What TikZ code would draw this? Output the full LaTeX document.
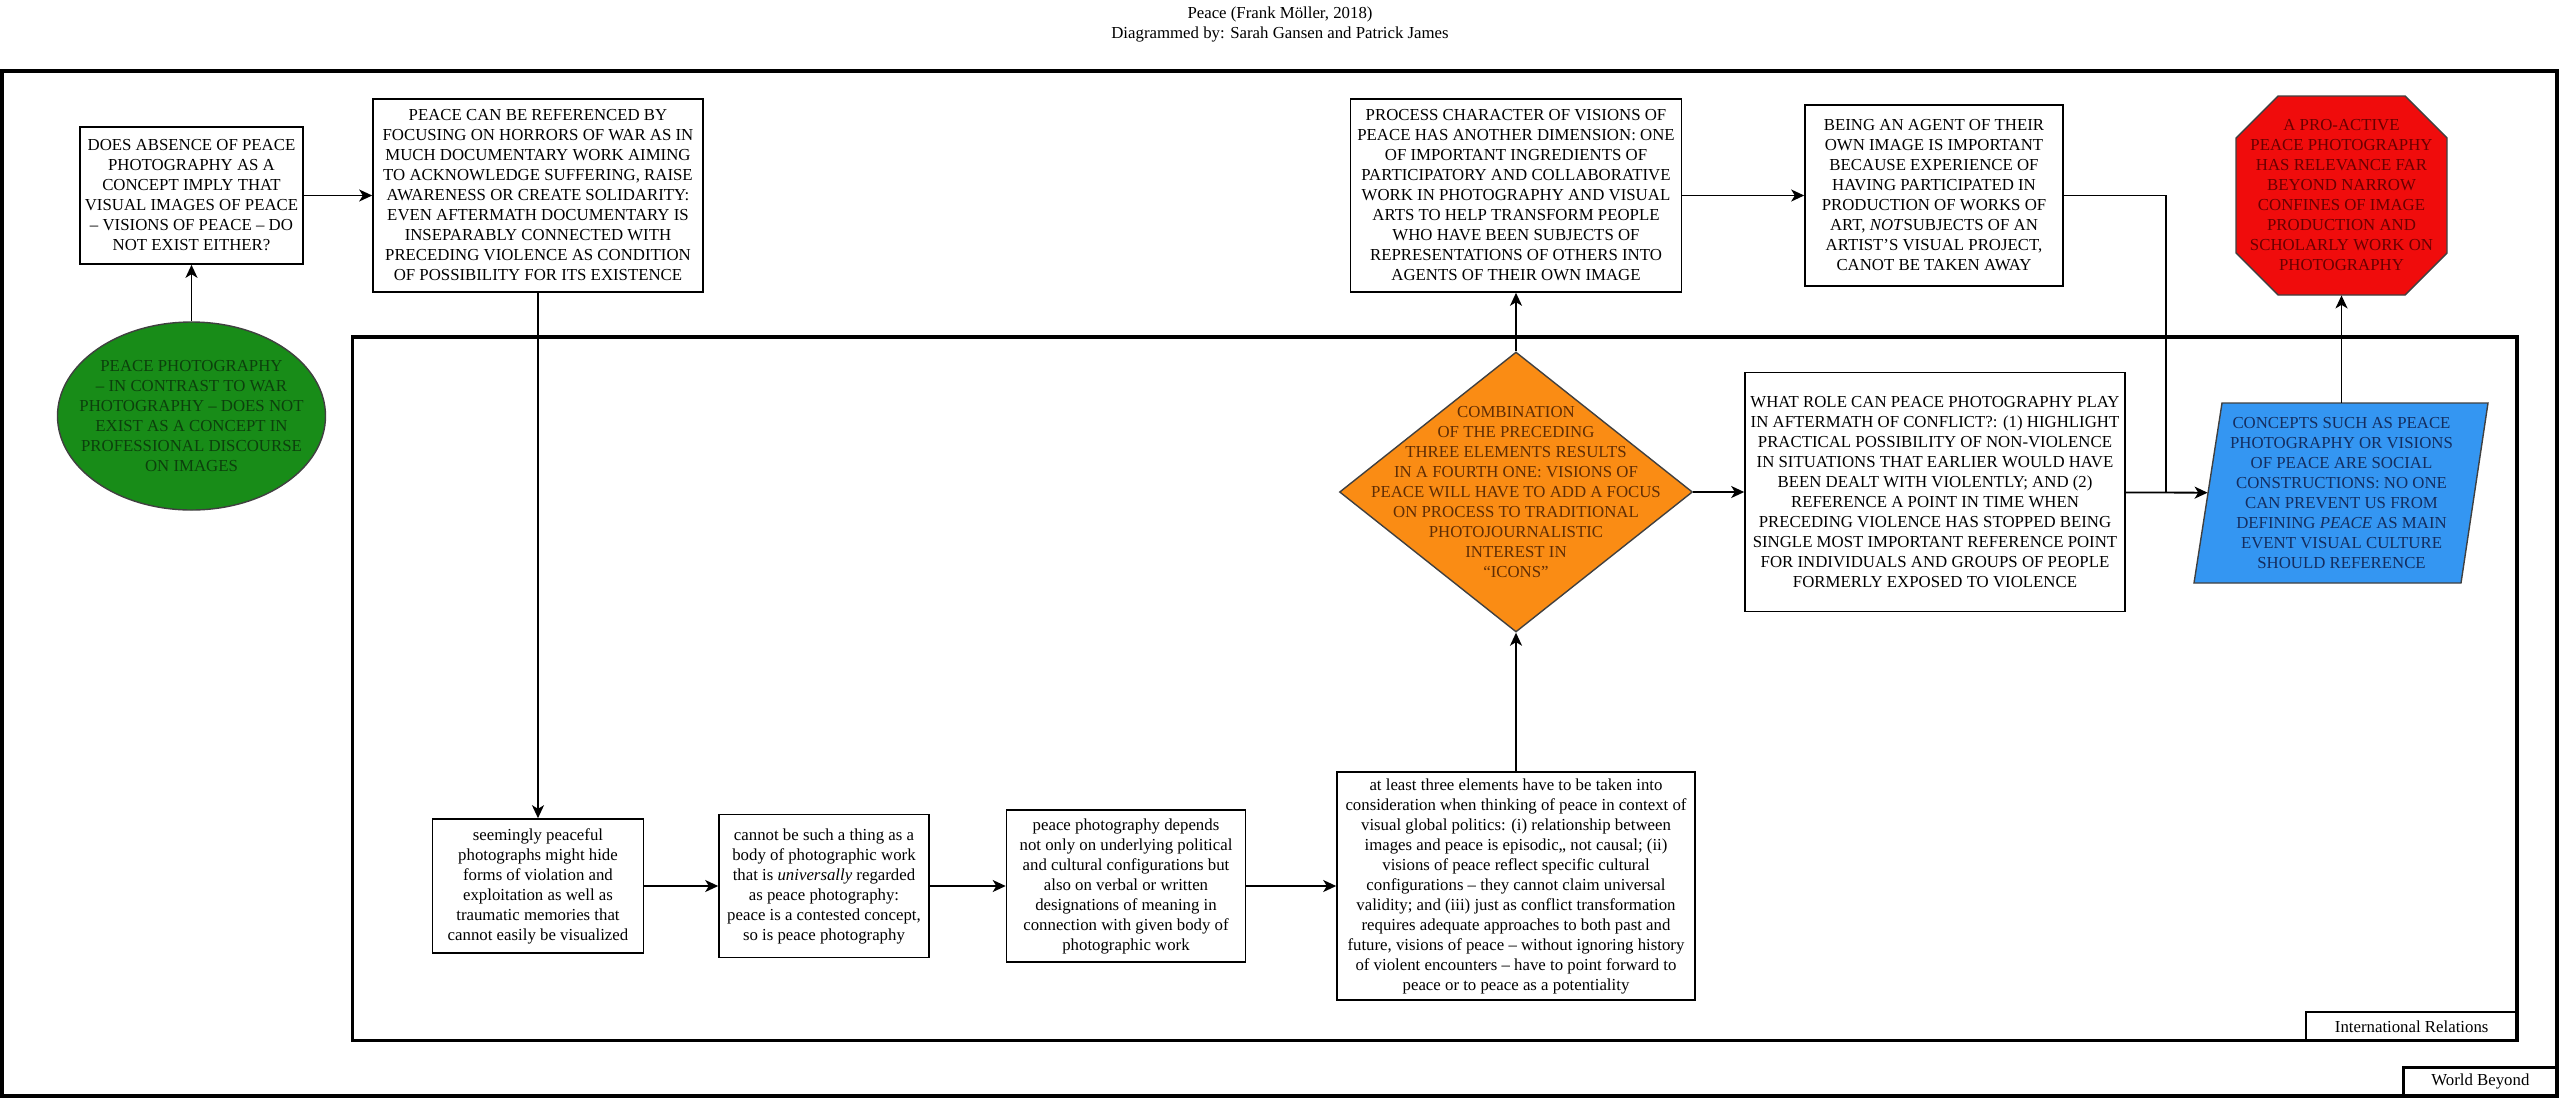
\documentclass[tikz,border=0pt]{standalone}
\usepackage{fontspec}
\setmainfont{Liberation Serif}
\usepackage{tikz}
\usepackage{xcolor}
\usetikzlibrary{
    arrows.meta,
    shapes
}
\definecolor{peacegreen}{RGB}{24,140,24}
\definecolor{peacegreentext}{RGB}{12,64,12}
\definecolor{stopred}{RGB}{240,12,12}
\definecolor{stopredtext}{RGB}{105,0,0}
\definecolor{comboorange}{RGB}{250,140,20}
\definecolor{comboorangetext}{RGB}{95,45,5}
\definecolor{conceptblue}{RGB}{52,150,242}
\definecolor{conceptbluetext}{RGB}{20,45,95}

\begin{document}
\begin{tikzpicture}[x=0.5pt, y=-0.5pt,
    font={\fontsize{8.4}{10}\selectfont},
    box/.style={draw, line width=0.8pt, align=center, inner sep=0pt},
    shapetext/.style={align=center, inner sep=0pt},
    colourshape/.style={draw=black!75, line width=0.7pt},
    frame/.style={draw, line width=1.8pt, inner sep=0pt},
    framelabel/.style={draw, line width=1.4pt, inner sep=0pt, anchor=south east},
    link/.style={line width=0.9pt, -{Stealth[length=6.5pt, width=6pt, inset=1.8pt]}}
]
\useasboundingbox (0, 0) rectangle (2560, 1099);
% title
\node[align=center] (title) at (1280, 24) {Peace (Frank Möller, 2018)\\Diagrammed by: Sarah Gansen and Patrick James};
% frames
\node[frame, minimum width=1277.5pt, minimum height=512.5pt] (world) at (1279.5, 583.5) {};
\node[framelabel, minimum width=77pt, minimum height=14.5pt] (worldlabel) at (world.south east) {World Beyond};
\node[frame, minimum width=1082.25pt, minimum height=351.75pt] (ir) at (1434.75, 688.75) {};
\node[framelabel, minimum width=105.75pt, minimum height=14.5pt] (irlabel) at (ir.south east) {International Relations};
% left part
\node[colourshape, ellipse, fill=peacegreen, inner sep=0pt,
    minimum width=134pt, minimum height=94pt,
    label={[shapetext, text=peacegreentext]center:{PEACE PHOTOGRAPHY\\-- IN CONTRAST TO WAR\\PHOTOGRAPHY -- DOES NOT\\EXIST AS A CONCEPT IN\\PROFESSIONAL DISCOURSE\\ON IMAGES}}] (nophoto) at (191.5, 416) {};
\node[box, minimum width=111.5pt, minimum height=68.5pt] (absence) at (191.5, 195.5) {DOES ABSENCE OF PEACE\\PHOTOGRAPHY AS A\\CONCEPT IMPLY THAT\\VISUAL IMAGES OF PEACE\\-- VISIONS OF PEACE -- DO\\NOT EXIST EITHER?};
\node[box, minimum width=165pt, minimum height=96.5pt] (horrors) at (538, 195.5) {PEACE CAN BE REFERENCED BY\\FOCUSING ON HORRORS OF WAR AS IN\\MUCH DOCUMENTARY WORK AIMING\\TO ACKNOWLEDGE SUFFERING, RAISE\\AWARENESS OR CREATE SOLIDARITY:\\EVEN AFTERMATH DOCUMENTARY IS\\INSEPARABLY CONNECTED WITH\\PRECEDING VIOLENCE AS CONDITION\\OF POSSIBILITY FOR ITS EXISTENCE};
% bottom row
\node[box, minimum width=105.5pt, minimum height=67pt] (hide) at (538, 886) {seemingly peaceful\\photographs might hide\\forms of violation and\\exploitation as well as\\traumatic memories that\\cannot easily be visualized};
\node[box, minimum width=105pt, minimum height=71.5pt] (contested) at (824, 886) {cannot be such a thing as a\\body of photographic work\\that is \textit{universally} regarded\\as peace photography:\\peace is a contested concept,\\so is peace photography};
\node[box, minimum width=119.5pt, minimum height=76pt] (designations) at (1126, 886) {peace photography depends\\not only on underlying political\\and cultural configurations but\\also on verbal or written\\designations of meaning in\\connection with given body of\\photographic work};
\node[box, minimum width=179pt, minimum height=114pt] (elements) at (1516, 886) {at least three elements have to be taken into\\consideration when thinking of peace in context of\\visual global politics: (i) relationship between\\images and peace is episodic,, not causal; (ii)\\visions of peace reflect specific cultural\\configurations -- they cannot claim universal\\validity; and (iii) just as conflict transformation\\requires adequate approaches to both past and\\future, visions of peace -- without ignoring history\\of violent encounters -- have to point forward to\\peace or to peace as a potentiality};
% middle and right part
\node[colourshape, diamond, fill=comboorange, inner sep=0pt,
    minimum width=176.5pt, minimum height=140pt,
    label={[shapetext, text=comboorangetext]center:{COMBINATION\\OF THE PRECEDING\\THREE ELEMENTS RESULTS\\IN A FOURTH ONE: VISIONS OF\\PEACE WILL HAVE TO ADD A FOCUS\\ON PROCESS TO TRADITIONAL\\PHOTOJOURNALISTIC\\INTEREST IN\\``ICONS''}}] (combo) at (1516, 492) {};
\node[box, minimum width=165.5pt, minimum height=96.5pt] (process) at (1516, 195.5) {PROCESS CHARACTER OF VISIONS OF\\PEACE HAS ANOTHER DIMENSION: ONE\\OF IMPORTANT INGREDIENTS OF\\PARTICIPATORY AND COLLABORATIVE\\WORK IN PHOTOGRAPHY AND VISUAL\\ARTS TO HELP TRANSFORM PEOPLE\\WHO HAVE BEEN SUBJECTS OF\\REPRESENTATIONS OF OTHERS INTO\\AGENTS OF THEIR OWN IMAGE};
\node[box, minimum width=129pt, minimum height=90.5pt] (agent) at (1934, 195.5) {BEING AN AGENT OF THEIR\\OWN IMAGE IS IMPORTANT\\BECAUSE EXPERIENCE OF\\HAVING PARTICIPATED IN\\PRODUCTION OF WORKS OF\\ART, \textit{NOT}SUBJECTS OF AN\\ARTIST'S VISUAL PROJECT,\\CANOT BE TAKEN AWAY};
\node[box, minimum width=190pt, minimum height=119.5pt] (whatrole) at (1935, 492) {WHAT ROLE CAN PEACE PHOTOGRAPHY PLAY\\IN AFTERMATH OF CONFLICT?: (1) HIGHLIGHT\\PRACTICAL POSSIBILITY OF NON-VIOLENCE\\IN SITUATIONS THAT EARLIER WOULD HAVE\\BEEN DEALT WITH VIOLENTLY; AND (2)\\REFERENCE A POINT IN TIME WHEN\\PRECEDING VIOLENCE HAS STOPPED BEING\\SINGLE MOST IMPORTANT REFERENCE POINT\\FOR INDIVIDUALS AND GROUPS OF PEOPLE\\FORMERLY EXPOSED TO VIOLENCE};
% parallelogram and octagon
\draw[colourshape, fill=conceptblue] (2222, 403) -- (2488, 403) -- (2461, 583) -- (2194, 583) -- cycle;
\node[shapetext, text=conceptbluetext, minimum width=133.5pt, minimum height=90pt] (concepts) at (2341.5, 493) {CONCEPTS SUCH AS PEACE\\PHOTOGRAPHY OR VISIONS\\OF PEACE ARE SOCIAL\\CONSTRUCTIONS: NO ONE\\CAN PREVENT US FROM\\DEFINING \textit{PEACE} AS MAIN\\EVENT VISUAL CULTURE\\SHOULD REFERENCE};
\draw[colourshape, fill=stopred] (2278, 96) -- (2405, 96) -- (2447, 138) -- (2447, 253) -- (2405, 295) -- (2278, 295) -- (2236, 253) -- (2236, 138) -- cycle;
\node[shapetext, text=stopredtext, minimum width=105.5pt, minimum height=99.5pt] (proactive) at (2341.5, 195.5) {A PRO-ACTIVE\\PEACE PHOTOGRAPHY\\HAS RELEVANCE FAR\\BEYOND NARROW\\CONFINES OF IMAGE\\PRODUCTION AND\\SCHOLARLY WORK ON\\PHOTOGRAPHY};
% connectors
\coordinate (join) at (2166, 492);
\draw[link] (nophoto) -- (absence);
\draw[link] (absence) -- (horrors);
\draw[link] (horrors) -- (hide);
\draw[link] (hide) -- (contested);
\draw[link] (contested) -- (designations);
\draw[link] (designations) -- (elements);
\draw[link] (elements) -- (combo);
\draw[link] (combo) -- (process);
\draw[link] (process) -- (agent);
\draw[link] (combo) -- (whatrole);
\draw[line width=0.9pt] (agent.east) -| (join);
\draw[link] (whatrole) -- (concepts);
\draw[link] (concepts) -- (proactive);
\end{tikzpicture}
\end{document}
